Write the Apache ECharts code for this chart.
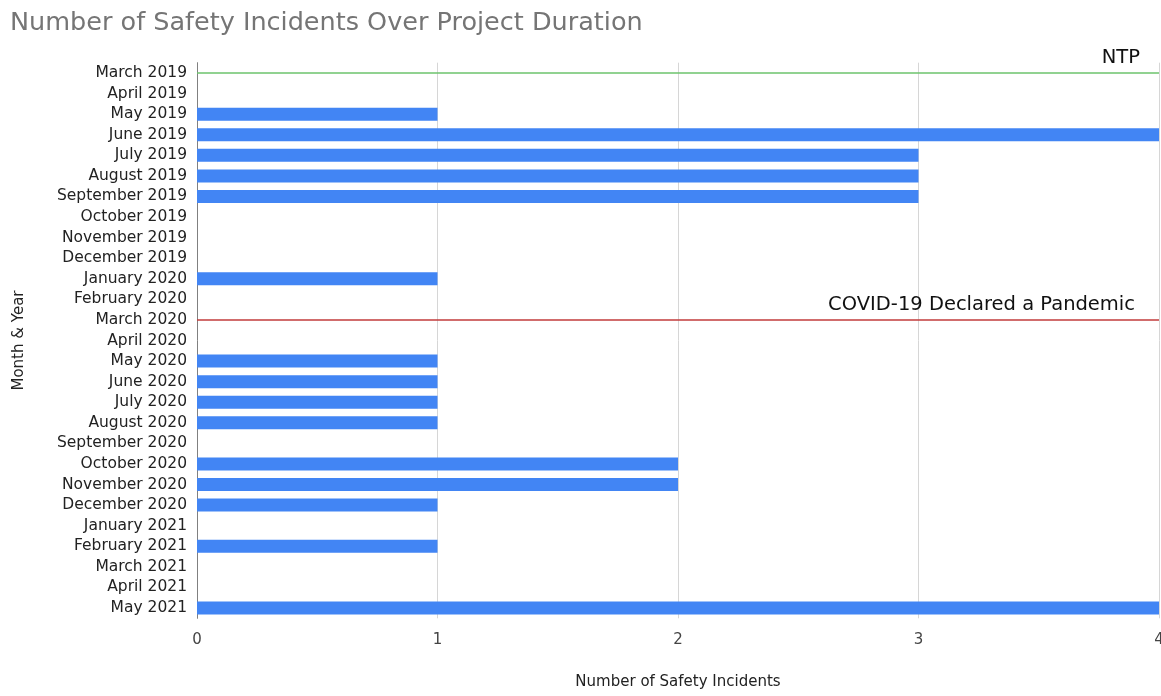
<!DOCTYPE html>
<html>
<head>
<meta charset="utf-8">
<script src="https://cdn.jsdelivr.net/npm/echarts@6/dist/echarts.min.js"></script>
<style>html,body{margin:0;padding:0;background:#fff;}#c{width:1161px;height:696px;}</style>
</head>
<body>
<div id="c"></div>
<script>
const months = ["March 2019","April 2019","May 2019","June 2019","July 2019","August 2019","September 2019","October 2019","November 2019","December 2019","January 2020","February 2020","March 2020","April 2020","May 2020","June 2020","July 2020","August 2020","September 2020","October 2020","November 2020","December 2020","January 2021","February 2021","March 2021","April 2021","May 2021"];
const incidents = [0,0,1,4,3,3,3,0,0,0,1,0,0,0,1,1,1,1,0,2,2,1,0,1,0,0,4];
const xTicks = [0,1,2,3,4];
const events = [
  {month: "March 2019", label: "NTP", color: "#6cc36c", gap: 19},
  {month: "March 2020", label: "COVID-19 Declared a Pandemic", color: "#c23b3b", gap: 24}
];

const chart = echarts.init(document.getElementById('c'), null, {renderer: 'canvas'});
const font = '"DejaVu Sans", sans-serif';
chart.setOption({
  animation: false,
  title: {
    text: 'Number of Safety Incidents Over Project Duration',
    left: 5, top: 5,
    textStyle: {fontFamily: font, fontSize: 25.5, fontWeight: 'normal', color: '#757575'}
  },
  grid: {left: 197, right: 2, top: 62.7, bottom: 77.7, containLabel: false, outerBoundsMode: 'none'},
  xAxis: {
    type: 'value', min: xTicks[0], max: xTicks[xTicks.length - 1], interval: 1,
    name: 'Number of Safety Incidents', nameLocation: 'middle', nameGap: 56,
    nameTextStyle: {fontFamily: font, fontSize: 15, color: '#222'},
    axisLine: {show: false}, axisTick: {show: false},
    axisLabel: {fontFamily: font, fontSize: 15, color: '#444', margin: 14},
    splitLine: {show: true, lineStyle: {color: '#d6d6d6', width: 1}}
  },
  yAxis: {
    type: 'category', data: months, inverse: true,
    name: 'Month & Year', nameLocation: 'middle', nameGap: 170, nameRotate: 90,
    nameTextStyle: {fontFamily: font, fontSize: 15, color: '#222'},
    axisLine: {show: true, lineStyle: {color: '#808080', width: 1}},
    axisTick: {show: false},
    axisLabel: {interval: 0, fontFamily: font, fontSize: 15.5, color: '#222', margin: 10}
  },
  series: [{
    type: 'bar', data: incidents, barWidth: 13,
    itemStyle: {color: '#4285f4'},
    markLine: {
      symbol: ['none', 'none'], silent: true,
      data: events.map(e => ({
        yAxis: e.month,
        lineStyle: {color: e.color, width: 1.5, type: 'solid'},
        label: {show: true, formatter: e.label, position: 'insideEndTop', distance: [e.gap, 5],
          fontFamily: font, fontSize: 19.5, color: '#111'}
      }))
    }
  }]
});
</script>
</body>
</html>
